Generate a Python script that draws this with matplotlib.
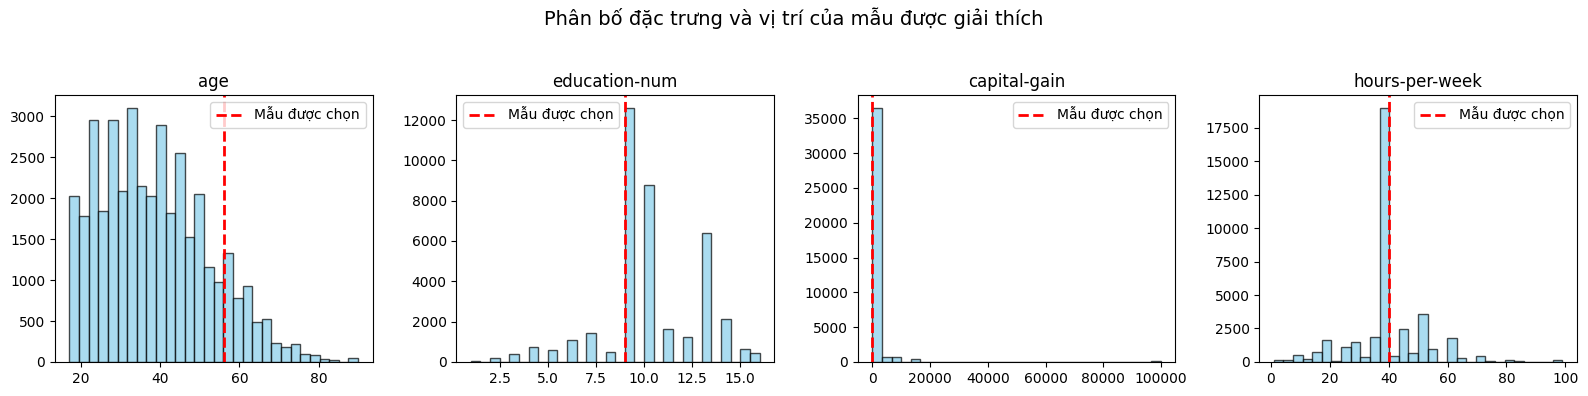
import numpy as np
import matplotlib
matplotlib.use("Agg")
import matplotlib.pyplot as plt

features = ["age", "education-num", "capital-gain", "hours-per-week"]
ranges = {"age": (17, 90), "education-num": (1, 16), "capital-gain": (0, 99999), "hours-per-week": (1, 99)}
selected = {"age": 56, "education-num": 9, "capital-gain": 0, "hours-per-week": 40}

# counts per bin (30 bins)
age_counts = [2030, 1785, 2960, 1846, 2960, 2091, 3105, 2150, 2030, 2898,
              1820, 2556, 1528, 2054, 1160, 978, 1333, 783, 925, 489,
              526, 232, 183, 220, 98, 86, 37, 24, 0, 50]
edu_counts = [60, 0, 198, 0, 397, 0, 745, 0, 580, 0,
              1090, 0, 1425, 0, 500, 0, 12610, 0, 8790, 0,
              1640, 0, 1240, 0, 6405, 0, 2135, 0, 645, 445]
gain_counts = [36530, 760, 760, 5, 400, 0, 0, 0, 0, 0,
               0, 0, 0, 0, 0, 0, 0, 0, 0, 0,
               0, 0, 0, 0, 0, 0, 0, 0, 0, 190]
hours_counts = [150, 150, 520, 225, 730, 1620, 80, 1110, 1470, 360,
                1860, 19000, 440, 2450, 660, 3565, 960, 20, 1780, 285,
                20, 450, 75, 10, 150, 70, 15, 10, 10, 150]

counts = {"age": age_counts, "education-num": edu_counts,
          "capital-gain": gain_counts, "hours-per-week": hours_counts}
legend_loc = {"age": "upper right", "education-num": "upper left",
              "capital-gain": "upper right", "hours-per-week": "upper right"}

fig, axes = plt.subplots(1, 4, figsize=(15.88, 3.96), dpi=100)
for ax, feat in zip(axes, features):
    lo, hi = ranges[feat]
    edges = np.linspace(lo, hi, 31)
    centers = (edges[:-1] + edges[1:]) / 2
    ax.hist(centers, bins=edges, weights=counts[feat], color="skyblue",
            edgecolor="black", alpha=0.7)
    ax.axvline(selected[feat], color="red", linestyle="--", linewidth=2,
               label="Mẫu được chọn")
    ax.set_title(feat)
    ax.legend(loc=legend_loc[feat])

fig.suptitle("Phân bố đặc trưng và vị trí của mẫu được giải thích", fontsize=14)
plt.subplots_adjust(left=0.0346, right=0.993, top=0.760, bottom=0.086, wspace=0.264)
plt.savefig("out.png")
